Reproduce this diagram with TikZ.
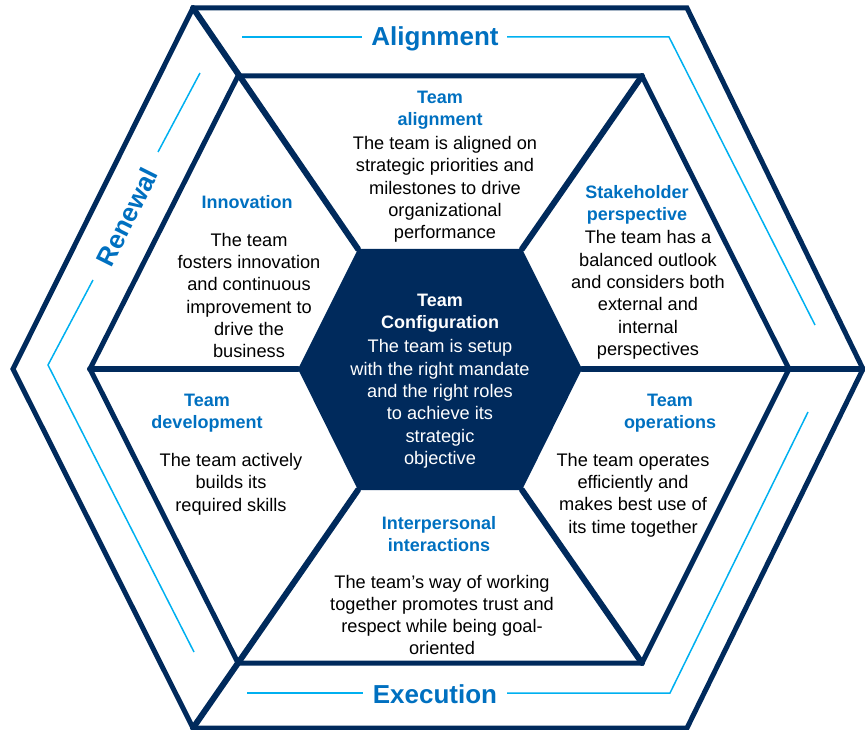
\documentclass[tikz,border=0pt]{standalone}
\usepackage{fontspec}
\setmainfont{Liberation Sans}
\definecolor{navy}{HTML}{002A5C}
\definecolor{hblue}{HTML}{0070C0}
\definecolor{lblue}{HTML}{00B0F0}
\tikzset{
  hexline/.style={draw=navy, line width=5pt, line join=miter},
  spoke/.style={draw=navy, line width=6pt, line cap=round},
  guide/.style={draw=lblue, line width=1.5pt},
  band/.style={text=hblue, font=\bfseries\fontsize{26}{30}\selectfont, inner sep=0pt},
  head/.style={text=hblue, font=\bfseries\fontsize{18}{22.3}\selectfont, align=center, inner sep=0pt},
  body/.style={text=black, font=\fontsize{18.2}{22.3}\selectfont, align=center, inner sep=0pt},
  chead/.style={text=white, font=\bfseries\fontsize{18}{22.3}\selectfont, align=center, inner sep=0pt},
  cbody/.style={text=white, font=\fontsize{18.2}{22.3}\selectfont, align=center, inner sep=0pt}
}
\begin{document}
\begin{tikzpicture}[x=1pt,y=-1pt]
\useasboundingbox (0,0) rectangle (865,730);
% outer hexagon
\coordinate (O1) at (193,8);
\coordinate (O2) at (687,8);
\coordinate (O3) at (863,369);
\coordinate (O4) at (687,728);
\coordinate (O5) at (193,728);
\coordinate (O6) at (13,369);
% inner hexagon
\coordinate (I1) at (238,76);
\coordinate (I2) at (642,76);
\coordinate (I3) at (789,369);
\coordinate (I4) at (642,663);
\coordinate (I5) at (238,663);
\coordinate (I6) at (90,369);
% centre hexagon
\coordinate (C1) at (358,249);
\coordinate (C2) at (522,249);
\coordinate (C3) at (582,369);
\coordinate (C4) at (522,490);
\coordinate (C5) at (358,490);
\coordinate (C6) at (298,369);

\path[hexline] (O1) -- (O2) -- (O3) -- (O4) -- (O5) -- (O6) -- cycle;
\path[hexline] (I1) -- (I2) -- (I3) -- (I4) -- (I5) -- (I6) -- cycle;

\path[spoke] (C1) -- (O1);
\path[spoke] (C3) -- (O3);
\path[spoke] (C5) -- (O5);
\path[spoke] (C2) -- (I2);
\path[spoke] (C4) -- (I4);
\path[spoke] (C6) -- (I6);

\fill[navy] (C1) -- (C2) -- (C3) -- (C4) -- (C5) -- (C6) -- cycle;

% guide lines
\coordinate (A1) at (242,37);
\coordinate (A2) at (362,37);
\coordinate (A3) at (507,37);
\coordinate (A4) at (669,37);
\coordinate (A5) at (815,325);
\coordinate (E1) at (247,693);
\coordinate (E2) at (363,693);
\coordinate (E3) at (507,693);
\coordinate (E4) at (670,693);
\coordinate (E5) at (808,412);
\coordinate (R1) at (200,73);
\coordinate (R2) at (158,152);
\coordinate (R3) at (93,280);
\coordinate (R4) at (48,365);
\coordinate (R5) at (194,652);
\path[guide] (A1) -- (A2);
\path[guide] (A3) -- (A4) -- (A5);
\path[guide] (E1) -- (E2);
\path[guide] (E3) -- (E4) -- (E5);
\path[guide] (R1) -- (R2);
\path[guide] (R3) -- (R4) -- (R5);

\node[band] (alig) at (435,39) {Alignment};
\node[band] (exec) at (435,694) {Execution};
\node[band, rotate=63.4] (renew) at (127,217) {Renewal};

% segments
\node[head] (h1) at (440,110) {Team\\alignment};
\node[body] (b1) at (445,189.5) {The team is aligned on\\strategic priorities and\\milestones to drive\\organizational\\performance};

\node[head] (h2) at (247,202) {Innovation};
\node[body] (b2) at (249,295.5) {The team\\fosters innovation\\and continuous\\improvement to\\drive the\\business};

\node[head] (h3) at (637,205) {Stakeholder\\perspective};
\node[body] (b3) at (648,295) {The team has a\\balanced outlook\\and considers both\\external and\\internal\\perspectives};

\node[head] (h4) at (207,413.5) {Team\\development};
\node[body] (b4) at (231,484) {The team actively\\builds its\\required skills};

\node[head] (h5) at (670,413.5) {Team\\operations};
\node[body] (b5) at (633,495) {The team operates\\efficiently and\\makes best use of\\its time together};

\node[head] (h6) at (439,534) {Interpersonal\\interactions};
\node[body] (b6) at (442,615) {The team’s way of working\\together promotes trust and\\respect while being goal-\\oriented};

\node[chead] (h7) at (440,313) {Team\\Configuration};
\node[cbody] (b7) at (440,404) {The team is setup\\with the right mandate\\and the right roles\\to achieve its\\strategic\\objective};
\end{tikzpicture}
\end{document}
